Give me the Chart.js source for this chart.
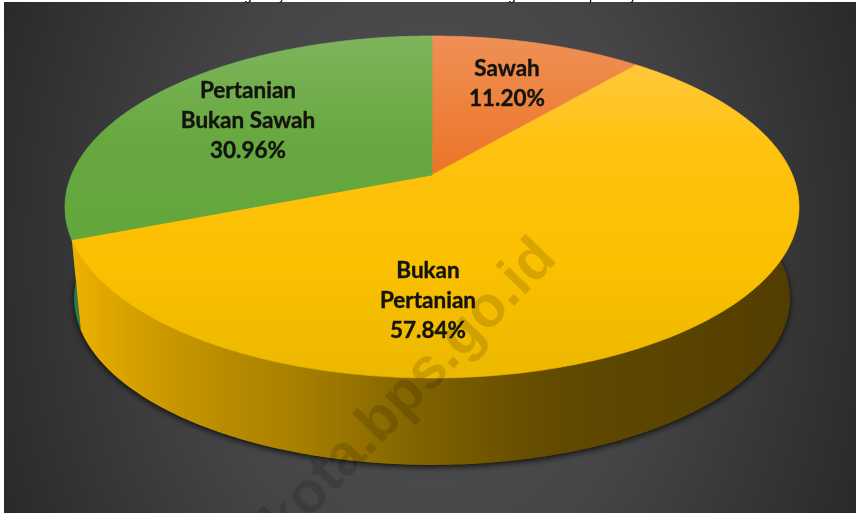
<!DOCTYPE html>
<html><head><meta charset="utf-8">
<style>html,body{margin:0;padding:0;background:#fff;overflow:hidden}canvas{display:block}</style>
<script src="https://cdn.jsdelivr.net/npm/chart.js@4"></script>
</head><body><canvas id="c" width="857" height="513"></canvas>
<script>
const categories = ["Sawah", "Bukan Pertanian", "Pertanian Bukan Sawah"];
const shares = [11.20, 57.84, 30.96];
const labelLines = [["Sawah", "11.20%"], ["Bukan", "Pertanian", "57.84%"], ["Pertanian", "Bukan Sawah", "30.96%"]];
const watermark = "kota.bps.go.id";
const titleDescenders = ["g", "y", "g", "p", "y"];

const view = { cx: 432, cy: 175, R: 360.5, S: 165, k: 0.1871, depth: 92, shrink: 0.975 };
const labelPos = [[507, 69], [428, 271], [248, 91]];
const lineGap = 29.7;
const descenderX = [248, 282, 512, 593, 633];

function project(theta, lower) {
  const x = Math.sin(theta), y = Math.cos(theta), w = 1 + view.k * y;
  const s = lower ? view.shrink : 1;
  return [view.cx + s * view.R * x / w, view.cy + (lower ? view.depth : 0) - s * view.S * y / w];
}
function ringPoints(a0, a1, lower) {
  const n = Math.max(4, Math.ceil(Math.abs(a1 - a0) * 80)), pts = [];
  for (let i = 0; i <= n; i++) pts.push(project(a0 + (a1 - a0) * i / n + Math.PI / 2, lower));
  return pts;
}
function trace(ctx, pts, start) {
  pts.forEach((p, i) => (i === 0 && start) ? ctx.moveTo(p[0], p[1]) : ctx.lineTo(p[0], p[1]));
}
function vGrad(ctx, y0, stops) {
  const g = ctx.createLinearGradient(0, y0[0], 0, y0[1]);
  stops.forEach((c, i) => g.addColorStop(i / (stops.length - 1), c));
  return g;
}
const perspectivePie = {
  id: "perspectivePie",
  beforeDraw(chart) {
    const ctx = chart.ctx;
    ctx.save();
    ctx.fillStyle = "#fff";
    ctx.fillRect(0, 0, 857, 513);
    ctx.beginPath(); ctx.rect(4, 2, 852, 511); ctx.clip();
    ctx.translate(430, 255); ctx.scale(1, 1.38);
    const g = ctx.createRadialGradient(0, 0, 0, 0, 0, 470);
    g.addColorStop(0, "#535355"); g.addColorStop(0.5, "#454547"); g.addColorStop(1, "#29292a");
    ctx.fillStyle = g;
    ctx.fillRect(-500, -300, 1000, 600);
    ctx.restore();
  },
  beforeDatasetDraw(chart) {
    const ctx = chart.ctx, arcs = chart.getDatasetMeta(0).data;
    const sideOrder = [2, 1];
    const sideG = ctx.createLinearGradient(70, 0, 800, 0);
    [[0, "#eeb200"], [0.07, "#d9a300"], [0.18, "#bf9000"], [0.32, "#a67f00"], [0.45, "#876700"], [0.59, "#6d5200"], [0.68, "#604900"], [1, "#513d00"]]
      .forEach(s => sideG.addColorStop(s[0], s[1]));
    ctx.save();
    ctx.save();
    ctx.shadowColor = "rgba(0,0,0,0.8)"; ctx.shadowBlur = 6; ctx.shadowOffsetY = 2;
    ctx.beginPath();
    trace(ctx, ringPoints(-Math.PI, Math.PI, true), true);
    ctx.closePath();
    ctx.fillStyle = "#513d00";
    ctx.fill();
    ctx.restore();
    sideOrder.forEach(i => {
      const a = arcs[i];
      ctx.beginPath();
      trace(ctx, ringPoints(a.startAngle, a.endAngle, false), true);
      trace(ctx, ringPoints(a.endAngle, a.startAngle, true), false);
      ctx.closePath();
      ctx.fillStyle = i === 1 ? sideG : "#2a7a50";
      ctx.fill();
    });
    const faces = [
      vGrad(ctx, [36, 175], ["#ef9055", "#ec7426"]),
      vGrad(ctx, [36, 378], ["#ffca47", "#ffc20f", "#fbc000", "#ecb800"]),
      vGrad(ctx, [36, 240], ["#7fb45c", "#67a940", "#63a63c"])
    ];
    arcs.forEach((a, i) => {
      ctx.beginPath();
      ctx.moveTo(view.cx, view.cy);
      trace(ctx, ringPoints(a.startAngle, a.endAngle, false), false);
      ctx.closePath();
      ctx.fillStyle = faces[i];
      ctx.strokeStyle = faces[i];
      ctx.lineWidth = 0.7;
      ctx.stroke();
      ctx.fill();
    });
    ctx.restore();
    return false;
  },
  afterDraw(chart) {
    const ctx = chart.ctx;
    ctx.save();
    ctx.textAlign = "center";
    ctx.textBaseline = "middle";
    ctx.font = "bold 22.5px Lato";
    ctx.fillStyle = "#14140f";
    ctx.strokeStyle = "#14140f";
    ctx.lineWidth = 0.4;
    labelLines.forEach((lines, i) => lines.forEach((t, j) => {
      ctx.fillText(t, labelPos[i][0], labelPos[i][1] + j * lineGap);
      ctx.strokeText(t, labelPos[i][0], labelPos[i][1] + j * lineGap);
    }));
    ctx.restore();

    ctx.save();
    ctx.translate(547, 249);
    ctx.rotate(-46 * Math.PI / 180);
    ctx.font = "bold 58px 'Liberation Sans'";
    ctx.textAlign = "right";
    ctx.textBaseline = "middle";
    ctx.fillStyle = "rgba(0,0,0,0.14)";
    ctx.fillText(watermark, 0, 0);
    ctx.restore();

    ctx.save();
    ctx.beginPath(); ctx.rect(0, 0, 857, 2.5); ctx.clip();
    ctx.font = "14px 'Liberation Sans'";
    ctx.textAlign = "center";
    ctx.textBaseline = "alphabetic";
    ctx.fillStyle = "#000";
    titleDescenders.forEach((t, i) => ctx.fillText(t, descenderX[i], 0));
    ctx.restore();
  }
};
new Chart(document.getElementById("c"), {
  type: "pie",
  data: { labels: categories, datasets: [{ data: shares, backgroundColor: ["#ed7d31", "#ffc000", "#70ad47"], borderWidth: 0 }] },
  options: {
    responsive: false, animation: false, devicePixelRatio: 1,
    plugins: { legend: { display: false }, tooltip: { enabled: false }, title: { display: false } }
  },
  plugins: [perspectivePie]
});
</script></body></html>
